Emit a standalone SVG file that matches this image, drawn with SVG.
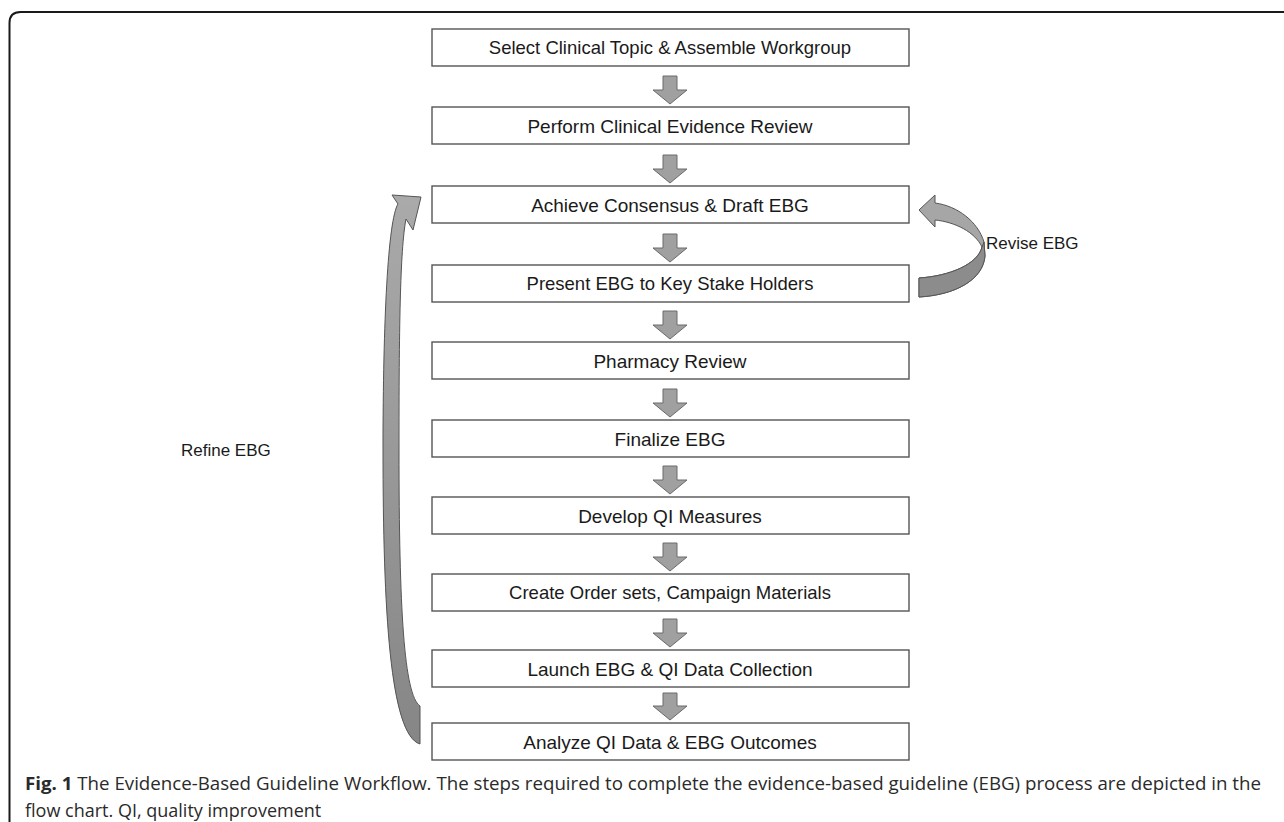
<svg xmlns="http://www.w3.org/2000/svg" width="1284" height="822" viewBox="0 0 1284 822">
<style>
.box{fill:#fff;stroke:#555;stroke-width:1.4}
.lbl{font-family:"Liberation Sans",Arial,sans-serif;font-size:19px;fill:#1a1a1a;text-anchor:middle}
.sm{font-size:18.5px}
.side{font-family:"Liberation Sans",Arial,sans-serif;font-size:17px;fill:#1a1a1a}
.down{fill:#a0a0a0;stroke:#6a6a6a;stroke-width:1}
.cap{font-family:"Open Sans","Noto Sans",sans-serif;font-size:18px;fill:#2a2a2a}
</style>
<defs>
<linearGradient id="refG" x1="0" y1="0" x2="0" y2="1">
<stop offset="0" stop-color="#aaaaaa"/>
<stop offset="1" stop-color="#868686"/>
</linearGradient>
</defs>
<rect width="1284" height="822" fill="#fff"/>
<path d="M9.5,822 L9.5,23 Q9.5,12 20.5,12 L1284,12" fill="none" stroke="#1a1a1a" stroke-width="2"/>

<g id="n1"><rect class="box" x="432" y="29" width="477" height="37"/><text class="lbl sm" x="670" y="54">Select Clinical Topic &amp; Assemble Workgroup</text></g>
<g id="n2"><rect class="box" x="432" y="107" width="477" height="37"/><text class="lbl" x="670" y="132.5">Perform Clinical Evidence Review</text></g>
<g id="n3"><rect class="box" x="432" y="186" width="477" height="37"/><text class="lbl" x="670" y="211.5">Achieve Consensus &amp; Draft EBG</text></g>
<g id="n4"><rect class="box" x="432" y="265" width="477" height="37"/><text class="lbl sm" x="670" y="290">Present EBG to Key Stake Holders</text></g>
<g id="n5"><rect class="box" x="432" y="342" width="477" height="37"/><text class="lbl" x="670" y="367.5">Pharmacy Review</text></g>
<g id="n6"><rect class="box" x="432" y="420" width="477" height="37"/><text class="lbl" x="670" y="445.5">Finalize EBG</text></g>
<g id="n7"><rect class="box" x="432" y="497" width="477" height="37"/><text class="lbl" x="670" y="522.5">Develop QI Measures</text></g>
<g id="n8"><rect class="box" x="432" y="574" width="477" height="37"/><text class="lbl sm" x="670" y="599">Create Order sets, Campaign Materials</text></g>
<g id="n9"><rect class="box" x="432" y="650" width="477" height="37"/><text class="lbl" x="670" y="675.5">Launch EBG &amp; QI Data Collection</text></g>
<g id="n10"><rect class="box" x="432" y="723" width="477" height="37"/><text class="lbl" x="670" y="748.5">Analyze QI Data &amp; EBG Outcomes</text></g>

<g id="connectors">
<path class="down" d="M663,76 H677 V90 H687 L670,104 L653,90 H663 Z"/>
<path class="down" d="M663,155 H677 V169 H687 L670,183 L653,169 H663 Z"/>
<path class="down" d="M663,234 H677 V248 H687 L670,262 L653,248 H663 Z"/>
<path class="down" d="M663,311 H677 V325 H687 L670,339 L653,325 H663 Z"/>
<path class="down" d="M663,389 H677 V403 H687 L670,417 L653,403 H663 Z"/>
<path class="down" d="M663,466 H677 V480 H687 L670,494 L653,480 H663 Z"/>
<path class="down" d="M663,543 H677 V557 H687 L670,571 L653,557 H663 Z"/>
<path class="down" d="M663,619 H677 V633 H687 L670,647 L653,633 H663 Z"/>
<path class="down" d="M663,693 H677 V706 H687 L670,720 L653,706 H663 Z"/>

<g id="revise">
<path d="M919,278 C950,276 978,264 982,247 C975,232 955,222 935,220 L935,227 L919,210 L935,195 L935,203 C958,206 978,222 984,242 L985,256 C983,280 955,295 919,297 Z" fill="#a6a6a6" stroke="#555" stroke-width="1"/>
<path d="M919,278 C950,276 978,264 982,247 L984,242 L985,256 C983,280 955,295 919,297 Z" fill="#8c8c8c" stroke="#555" stroke-width="1"/>
</g>

<g id="refine">
<path d="M421,197 L392,195 L398,204 C388,220 383,320 383,450 C383,610 390,735 420,744 L420,706 C404,695 399,610 399,450 C399,330 400,250 406,219 L413,230 Z" fill="url(#refG)" stroke="#555" stroke-width="1"/>
</g>
</g>

<text class="side" x="986" y="249">Revise EBG</text>
<text class="side" x="181" y="456">Refine EBG</text>

<text class="cap" x="25" y="790" textLength="1236" lengthAdjust="spacingAndGlyphs"><tspan font-weight="bold">Fig. 1</tspan> The Evidence-Based Guideline Workflow. The steps required to complete the evidence-based guideline (EBG) process are depicted in the</text>
<text class="cap" x="25" y="817">flow chart. QI, quality improvement</text>
</svg>
